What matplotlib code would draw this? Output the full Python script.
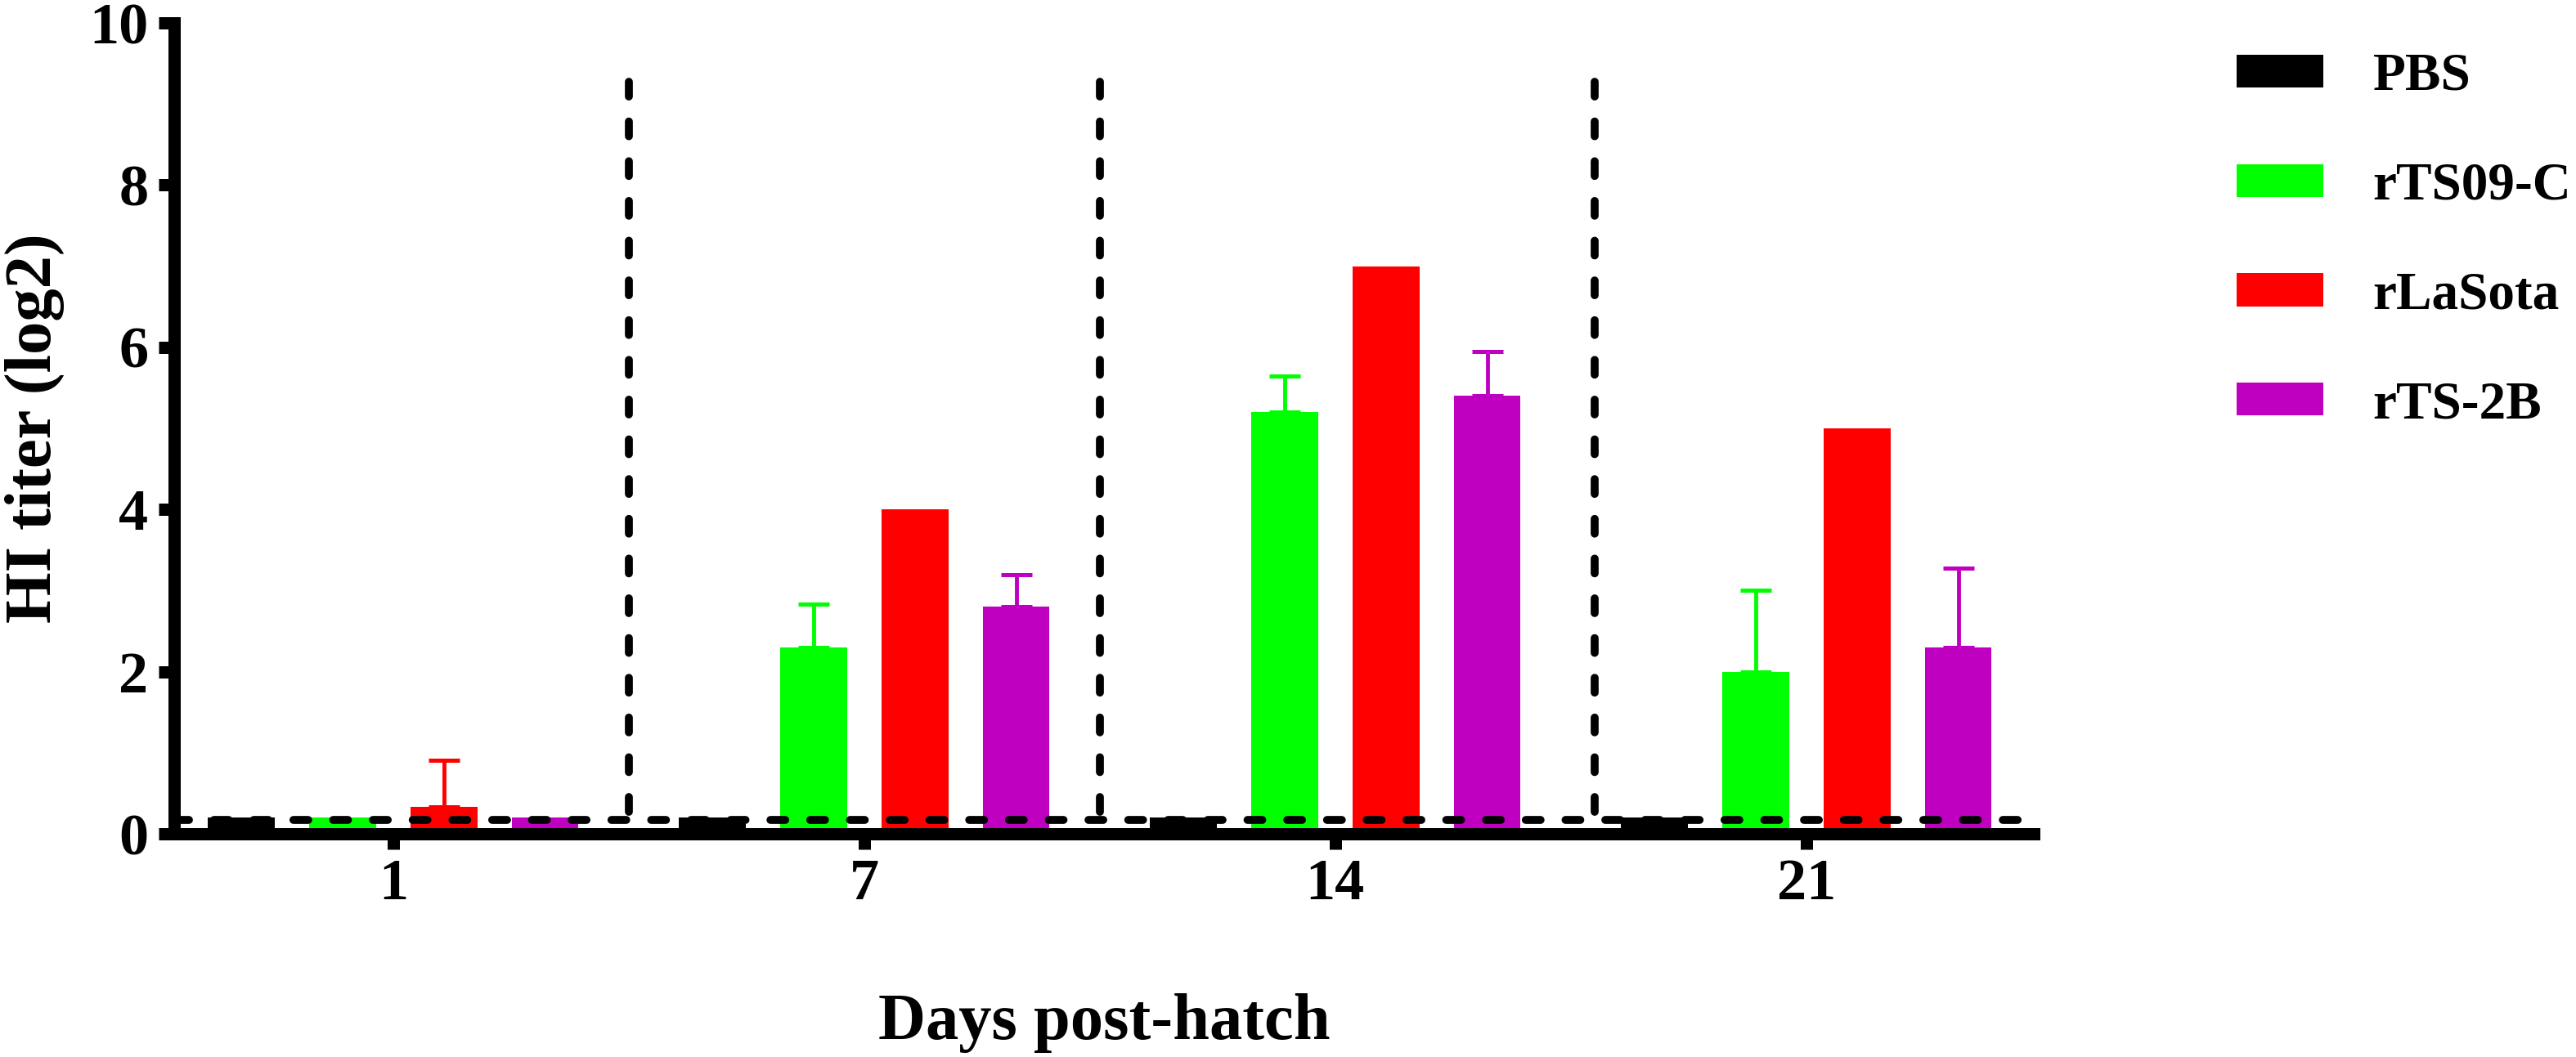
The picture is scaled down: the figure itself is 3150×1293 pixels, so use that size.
"""HI titer bar chart by days post-hatch (Prism-style)."""

import matplotlib

matplotlib.use("Agg")
import matplotlib.pyplot as plt
import numpy as np

plt.rcParams["font.family"] = ["Liberation Serif", "DejaVu Serif"]
plt.rcParams["font.weight"] = "bold"
plt.rcParams["lines.scale_dashes"] = False

days = ["1", "7", "14", "21"]
groups = ["PBS", "rTS09-C", "rLaSota", "rTS-2B"]
colors = ["#000000", "#00ff00", "#ff0000", "#c000c0"]

pbs = [0.2, 0.2, 0.2, 0.2]
pbs_sd = [0.0, 0.0, 0.0, 0.0]
rts09c = [0.2, 2.3, 5.2, 2.0]
rts09c_sd = [0.0, 0.53, 0.45, 1.0]
rlasota = [0.33, 4.0, 7.0, 5.0]
rlasota_sd = [0.58, 0.0, 0.0, 0.0]
rts2b = [0.2, 2.8, 5.4, 2.3]
rts2b_sd = [0.0, 0.4, 0.55, 0.98]

detection_limit = 0.17

means = [pbs, rts09c, rlasota, rts2b]
sds = [pbs_sd, rts09c_sd, rlasota_sd, rts2b_sd]

W, H, DPI = 3150, 1293, 100
fig = plt.figure(figsize=(W / DPI, H / DPI), dpi=DPI)
ax = fig.add_axes([213 / W, (H - 1020) / H, (2487 - 213) / W, 992 / H])

x = np.arange(len(days))
pitch = 0.215
width = 0.142
handles = []
for i, (name, m, s, c) in enumerate(zip(groups, means, sds, colors)):
    pos = x + (i - 1.5) * pitch
    b = ax.bar(pos, m, width=width, color=c, label=name, zorder=1)
    handles.append(b)
    m = np.asarray(m)
    s = np.asarray(s)
    keep = s > 0
    if keep.any():
        ax.errorbar(pos[keep], m[keep], yerr=[np.zeros(keep.sum()), s[keep]],
                    fmt="none", ecolor=c, elinewidth=3.5, capsize=13.5,
                    capthick=3.6, zorder=2)

# detection limit and day separators
dash = dict(color="black", lw=7, dashes=(13, 22), dash_capstyle="round", zorder=3)
ax.axhline(detection_limit, **dash)
for xd in [0.5, 1.5, 2.55]:
    ax.plot([xd, xd], [9.27, 0], **dash)

ax.set_xlim(-0.465, 3.483)
ax.set_ylim(0, 10)
ax.set_yticks([0, 2, 4, 6, 8, 10])
ax.set_xticks(x)
ax.set_xticklabels(days)

for side in ["top", "right"]:
    ax.spines[side].set_visible(False)
for side in ["left", "bottom"]:
    ax.spines[side].set_linewidth(10.8)
    ax.spines[side].set_capstyle("projecting")

ax.tick_params(axis="both", which="major", length=13.7, width=10.8,
               labelsize=52, direction="out")
ax.tick_params(axis="y", pad=9)
ax.tick_params(axis="x", pad=8)
for lab in ax.get_xticklabels() + ax.get_yticklabels():
    lab.set_fontweight("bold")

ax.set_xlabel("Days post-hatch", fontsize=58, fontweight="bold")
ax.set_ylabel("HI titer (log2)", fontsize=58, fontweight="bold")
ax.xaxis.set_label_coords(0.5, -0.233)
ax.xaxis.label.set_va("center")
ax.yaxis.set_label_coords(-0.075, 0.5)
ax.yaxis.label.set_va("center")

fig.legend(handles=handles, labels=groups, loc="upper left",
           bbox_to_anchor=(2735 / W, 1 - 64 / H), frameon=False,
           prop={"weight": "bold", "size": 47},
           handlelength=1.63, handleheight=0.57, handletextpad=0.92,
           labelspacing=1.13, borderpad=0, borderaxespad=0)

fig.savefig("out.png", dpi=DPI)
plt.close(fig)
